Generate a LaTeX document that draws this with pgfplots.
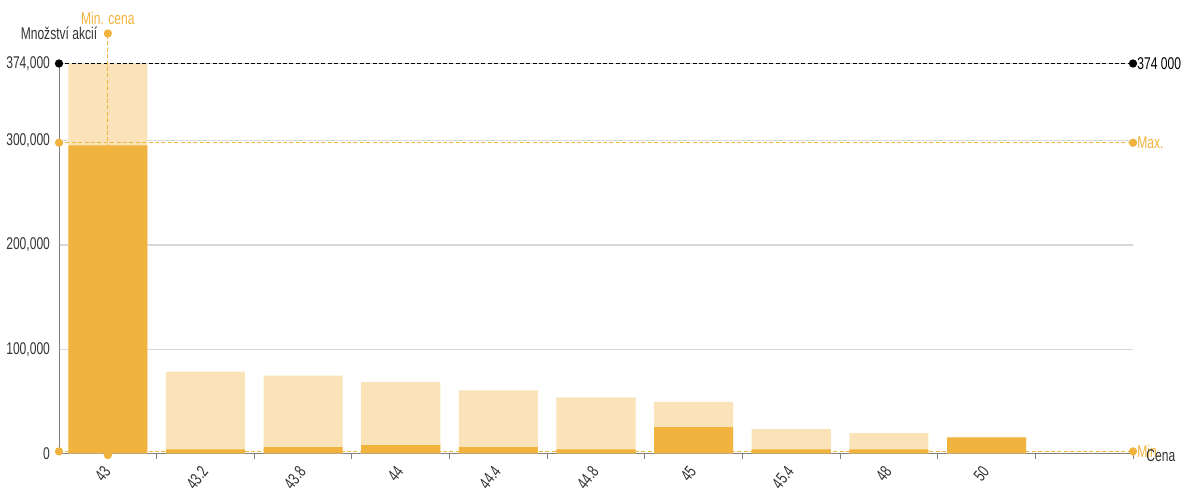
\documentclass[border=0pt]{standalone}
\usepackage{pgfplots}
\pgfplotsset{compat=1.18}
\usepackage{fontspec}
\setmainfont{Liberation Sans}[FakeStretch=0.71]
\definecolor{dark}{HTML}{F0B33D}
\definecolor{light}{HTML}{FAE3B8}
\definecolor{txt}{HTML}{333333}
\newcommand{\lbl}{\fontsize{8.5}{10}\selectfont}
\begin{document}
\begin{tikzpicture}[x=1pt,y=1pt]
\path[use as bounding box] (-29.5,-19.75) rectangle (563,226.75);
\begin{axis}[
  scale only axis, width=537pt, height=195pt,
  xmin=-0.5, xmax=10.5, ymin=0, ymax=374000,
  clip=false,
  axis x line*=bottom, axis y line*=left,
  axis line style={gray, line width=0.5pt},
  xtick={0,...,9},
  xticklabels={43,43.2,43.8,44,44.4,44.8,45,45.4,48,50},
  x tick label style={xshift=-3.5pt, yshift=3.7pt, rotate=52, anchor=north east, font=\lbl, text=txt},
  major x tick style={draw=none},
  minor xtick={0.5,1.5,...,10.5},
  xtick align=outside,
  minor x tick style={draw=gray, line width=0.5pt},
  minor tick length=3pt,
  ytick={0,100000,200000,300000,374000},
  yticklabels={0,{100,000},{200,000},{300,000},{374,000}},
  y tick label style={font=\lbl, text=txt, xshift=-1pt},
  major y tick style={draw=none},
  scaled y ticks=false,
  ymajorgrids, grid style={black!15, line width=0.7pt},
]
\addplot[ybar, bar width=0.81, bar shift=0pt, fill=light, draw=none] coordinates {
 (0,374000) (1,78600) (2,74700) (3,68500) (4,60600) (5,53800) (6,49600) (7,23400) (8,19500) (9,15400)};
\addplot[ybar, bar width=0.81, bar shift=0pt, fill=dark, draw=none] coordinates {
 (0,295500) (1,4000) (2,6000) (3,8000) (4,6000) (5,4000) (6,25300) (7,4000) (8,4000) (9,15400)};
\addplot[black, line width=0.6pt, dash pattern=on 2pt off 1.2pt, mark=*, mark size=1.75pt, mark options={solid}] coordinates {(-0.5,374000) (10.5,374000)};
\addplot[dark, line width=0.6pt, dash pattern=on 2pt off 1.2pt, mark=*, mark size=1.75pt, mark options={solid}] coordinates {(-0.5,298000) (10.5,298000)};
\addplot[dark, line width=0.6pt, dash pattern=on 2pt off 1.2pt, mark=*, mark size=1.75pt, mark options={solid}] coordinates {(-0.5,2000) (10.5,2000)};
\addplot[dark, line width=0.6pt, dash pattern=on 2pt off 1.2pt, mark=*, mark size=1.75pt, mark options={solid}] coordinates {(0,-1500) (0,402800)};
\node[anchor=west, font=\lbl, text=black, inner sep=0pt, xshift=2pt] at (axis cs:10.5,374000) {374 000};
\node[anchor=west, font=\lbl, text=dark, inner sep=0pt, xshift=2pt] at (axis cs:10.5,298000) {Max.};
\node[anchor=west, font=\lbl, text=dark, inner sep=0pt, xshift=2pt] at (axis cs:10.5,2000) {Min.};
\node[anchor=west, font=\lbl, text=txt, inner sep=0pt, xshift=6.5pt, yshift=-1pt] at (axis cs:10.5,0) {Cena};
\node[anchor=south, font=\lbl, text=dark, inner sep=0pt, yshift=4pt] at (axis cs:0,402800) {Min. cena};
\node[anchor=center, font=\lbl, text=txt, inner sep=0pt] at (axis cs:-0.5,402800) {Množství akcií};
\end{axis}
\end{tikzpicture}
\end{document}
